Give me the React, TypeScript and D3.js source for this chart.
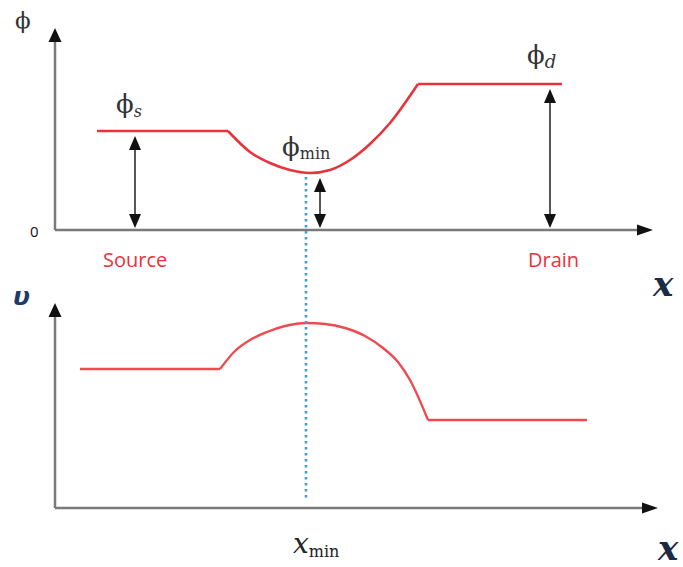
import React from "react";
import * as d3 from "d3";

// Position along the channel (arbitrary units, 0 = source side origin)
const phiFlatSource = [
  { x: 8.4, v: 99 },
  { x: 34.6, v: 99 },
];
const phiBarrier = [
  { x: 34.6, v: 99 },
  { x: 39, v: 78 },
  { x: 43, v: 67 },
  { x: 47, v: 60 },
  { x: 51, v: 57 },
  { x: 55, v: 60 },
  { x: 59, v: 70 },
  { x: 63, v: 86 },
  { x: 67, v: 107 },
  { x: 72.6, v: 146 },
];
const phiFlatDrain = [
  { x: 72.6, v: 146 },
  { x: 101.4, v: 146 },
];

const uFlatSource = [
  { x: 5, v: 139 },
  { x: 33, v: 139 },
];
const uBarrier = [
  { x: 33, v: 139 },
  { x: 36, v: 157 },
  { x: 39, v: 168 },
  { x: 42.4, v: 176 },
  { x: 46, v: 182 },
  { x: 50.4, v: 185 },
  { x: 54, v: 184 },
  { x: 58, v: 180 },
  { x: 62, v: 172 },
  { x: 65.6, v: 160 },
  { x: 68.6, v: 146 },
  { x: 71, v: 128 },
  { x: 74.6, v: 88 },
];
const uFlatDrain = [
  { x: 74.6, v: 88 },
  { x: 106.4, v: 88 },
];

// Potential levels marked with double-headed arrows
const levelMarkers = [
  { x: 16, v: 99 },
  { x: 53, v: 57 },
  { x: 99, v: 146 },
];
const xMin = 50.4;

const x = d3.scaleLinear().domain([0, 120]).range([55, 655]);
const yTop = d3.scaleLinear().domain([0, 200]).range([230, 30]);
const yBot = d3.scaleLinear().domain([0, 200]).range([508, 308]);

const RED = "#e8333b";
const AXIS = "#7a7a7a";
const MATH = "'DejaVu Serif', 'Liberation Serif', serif";
const SANS = "'Open Sans', 'Liberation Sans', sans-serif";

function tri(cx: number, cy: number, dir: "up" | "down" | "right", w: number, l: number) {
  if (dir === "up") return `M${cx},${cy} L${cx - w / 2},${cy + l} L${cx + w / 2},${cy + l} Z`;
  if (dir === "down") return `M${cx},${cy} L${cx - w / 2},${cy - l} L${cx + w / 2},${cy - l} Z`;
  return `M${cx},${cy} L${cx - l},${cy - w / 2} L${cx - l},${cy + w / 2} Z`;
}

export default function App() {
  const lin = (y: d3.ScaleLinear<number, number>) =>
    d3.line<{ x: number; v: number }>().x((d) => x(d.x)).y((d) => y(d.v));
  const crv = (y: d3.ScaleLinear<number, number>) =>
    d3
      .line<{ x: number; v: number }>()
      .x((d) => x(d.x))
      .y((d) => y(d.v))
      .curve(d3.curveMonotoneX);

  const x0 = x(0);
  return (
    <svg
      width={683}
      height={567}
      style={{ display: "block", position: "absolute", left: 0, top: 0 }}
    >
      <rect width={683} height={567} fill="#fff" />
      {/* Top panel axes */}
      <line x1={x0} y1={yTop(0)} x2={x0} y2={40} stroke={AXIS} strokeWidth={2.5} />
      <path d={tri(x0, 28, "up", 13, 14)} fill="#111" />
      <line x1={x0} y1={yTop(0)} x2={640} y2={yTop(0)} stroke={AXIS} strokeWidth={2.5} />
      <path d={tri(653, yTop(0), "right", 11, 16)} fill="#111" />
      <text x={30} y={237} fontFamily={SANS} fontSize={15} fill="#111">0</text>
      <text x={15} y={28} fontFamily={MATH} fontSize={23} fill="#333">ϕ</text>

      {/* Potential profile */}
      <g fill="none" stroke={RED} strokeWidth={2.6} strokeLinejoin="round">
        <path d={lin(yTop)(phiFlatSource) ?? ""} />
        <path d={crv(yTop)(phiBarrier) ?? ""} />
        <path d={lin(yTop)(phiFlatDrain) ?? ""} />
      </g>

      {/* Level markers */}
      {levelMarkers.map((m, i) => {
        const cx = x(m.x);
        const top = yTop(m.v) + 5;
        const bot = yTop(0) - 2;
        return (
          <g key={i}>
            <line x1={cx} y1={top + 12} x2={cx} y2={bot - 12} stroke="#111" strokeWidth={1.4} />
            <path d={tri(cx, top, "up", 12, 14)} fill="#111" />
            <path d={tri(cx, bot, "down", 12, 14)} fill="#111" />
          </g>
        );
      })}

      {/* Labels on the potential profile */}
      <text x={116} y={113} fontFamily={MATH} fontSize={26} fill="#333">
        ϕ<tspan fontSize={16} fontStyle="italic" dy={4}>s</tspan>
      </text>
      <text x={282} y={156} fontFamily={MATH} fontSize={26} fill="#333">
        ϕ<tspan fontSize={16} dy={3}>min</tspan>
      </text>
      <text x={527} y={64} fontFamily={MATH} fontSize={26} fill="#333">
        ϕ<tspan fontSize={18} fontStyle="italic" dy={4}>d</tspan>
      </text>

      <text x={103} y={267} fontFamily={SANS} fontSize={20} fill="#f0303c">Source</text>
      <text x={528} y={267} fontFamily={SANS} fontSize={20} fill="#f0303c">Drain</text>
      <text x={653} y={296} fontFamily={MATH} fontSize={34} fontStyle="italic" fontWeight="bold" fill="#1c2a44">x</text>

      {/* Bottom panel axes */}
      <line x1={x0} y1={yBot(0)} x2={x0} y2={316} stroke={AXIS} strokeWidth={2.5} />
      <path d={tri(x0, 303, "up", 13, 14)} fill="#111" />
      <line x1={x0} y1={yBot(0)} x2={645} y2={yBot(0)} stroke={AXIS} strokeWidth={2.5} />
      <path d={tri(658, yBot(0), "right", 11, 16)} fill="#111" />
      <text x={13} y={305} fontFamily="'DejaVu Sans', sans-serif" fontSize={25} fontStyle="italic" fontWeight="bold" fill="#1c3a6a">υ</text>

      {/* Energy profile */}
      <g fill="none" stroke="#ef4a50" strokeWidth={2.4} strokeLinejoin="round">
        <path d={lin(yBot)(uFlatSource) ?? ""} />
        <path d={crv(yBot)(uBarrier) ?? ""} />
        <path d={lin(yBot)(uFlatDrain) ?? ""} />
      </g>

      {/* Barrier position */}
      <line
        x1={x(xMin) - 1}
        y1={yTop(57) + 4}
        x2={x(xMin) - 1}
        y2={499}
        stroke="#3f9be8"
        strokeWidth={2.6}
        strokeDasharray="2.5 3.5"
      />
      <text x={293} y={553} fontFamily={MATH} fontSize={28} fontStyle="italic" fill="#222">
        x<tspan fontSize={16} fontStyle="normal" dy={4}>min</tspan>
      </text>
      <text x={658} y={560} fontFamily={MATH} fontSize={34} fontStyle="italic" fontWeight="bold" fill="#1c2a44">x</text>
    </svg>
  );
}
